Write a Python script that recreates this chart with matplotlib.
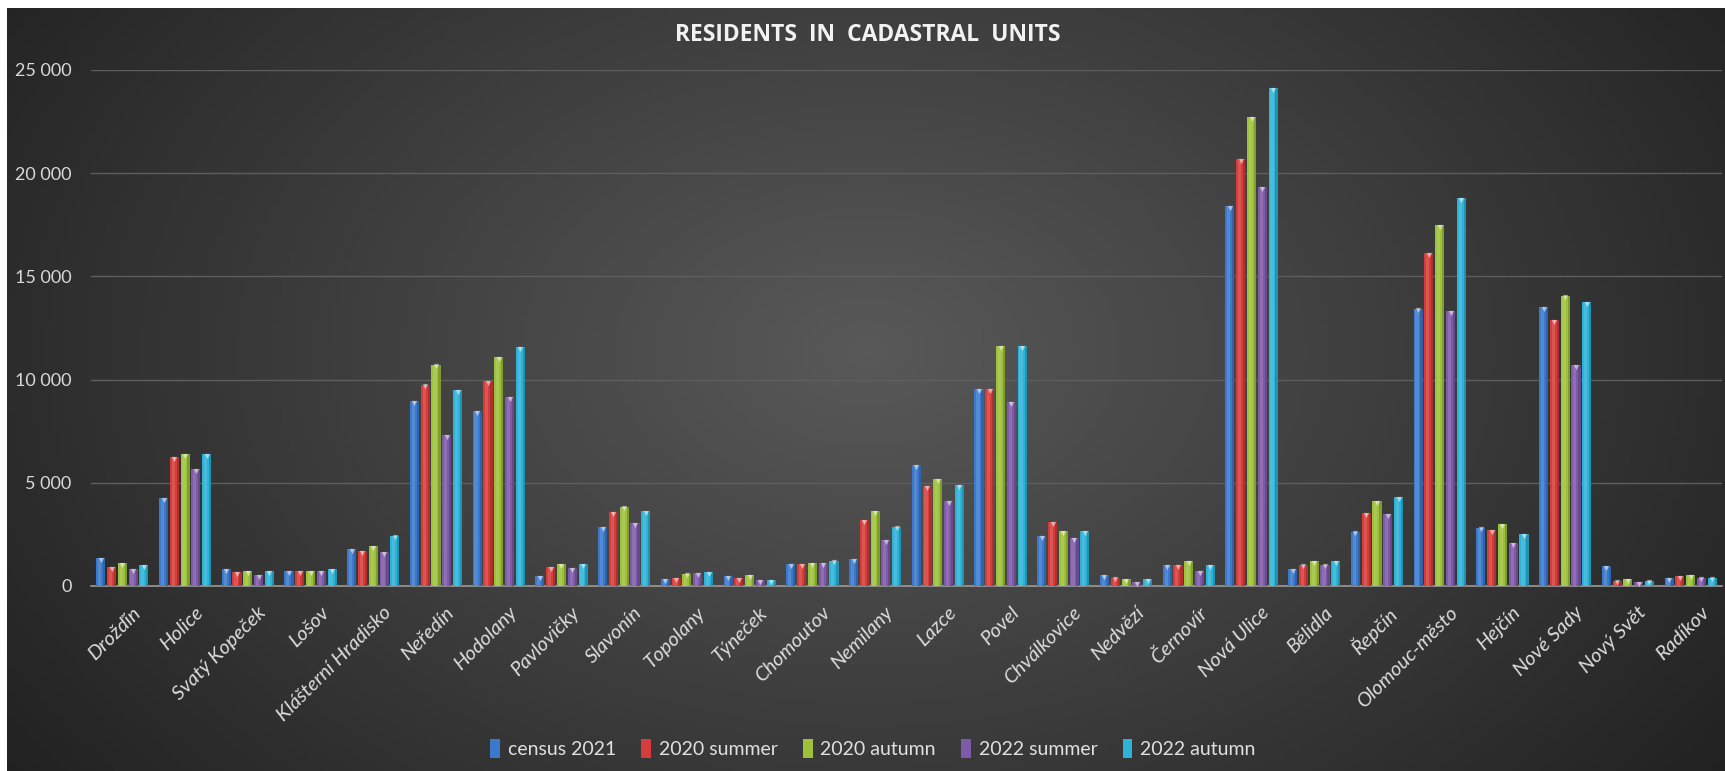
import numpy as np
import matplotlib.pyplot as plt
from matplotlib.patches import Patch
from matplotlib.ticker import FuncFormatter

plt.rcParams['font.family'] = ['Lato', 'DejaVu Sans']

units = ['Drožďín', 'Holice', 'Svatý Kopeček', 'Lošov', 'Klášterní Hradisko',
         'Neředín', 'Hodolany', 'Pavlovičky', 'Slavonín', 'Topolany', 'Týneček',
         'Chomoutov', 'Nemilany', 'Lazce', 'Povel', 'Chválkovice', 'Nedvězí',
         'Černovír', 'Nová Ulice', 'Bělidla', 'Řepčín', 'Olomouc-město',
         'Hejčín', 'Nové Sady', 'Nový Svět', 'Radíkov']

census_2021 = [1340, 4280, 820, 730, 1800, 8960, 8460, 500, 2840, 340, 480,
               1060, 1300, 5860, 9550, 2420, 520, 1000, 18400, 800, 2640,
               13440, 2830, 13530, 950, 370]
summer_2020 = [930, 6230, 690, 730, 1710, 9760, 9930, 910, 3570, 370, 370,
               1060, 3200, 4830, 9550, 3100, 410, 1000, 20670, 1040, 3530,
               16150, 2710, 12880, 260, 480]
autumn_2020 = [1120, 6390, 730, 730, 1950, 10730, 11100, 1080, 3850, 600, 540,
               1100, 3630, 5190, 11620, 2660, 350, 1190, 22710, 1190, 4130,
               17470, 2990, 14070, 320, 540]
summer_2022 = [820, 5650, 520, 730, 1640, 7300, 9150, 870, 3050, 630, 300,
               1100, 2230, 4130, 8920, 2320, 200, 740, 19310, 1040, 3480,
               13330, 2080, 10690, 200, 410]
autumn_2022 = [1020, 6390, 730, 820, 2440, 9480, 11560, 1080, 3630, 670, 300,
               1230, 2880, 4910, 11620, 2660, 320, 1000, 24130, 1190, 4310,
               18810, 2530, 13740, 260, 410]

series = [('census 2021', census_2021, '#3b79cc'),
          ('2020 summer', summer_2020, '#d63c3a'),
          ('2020 autumn', autumn_2020, '#9dc13b'),
          ('2022 summer', summer_2022, '#7f5aa9'),
          ('2022 autumn', autumn_2022, '#2db3d8')]

fig = plt.figure(figsize=(17.25, 7.71), dpi=100, facecolor='white')

# dark radial background, leaving a thin white strip top and left
bg = fig.add_axes([7 / 1725, 0, 1 - 7 / 1725, 1 - 8 / 771])
bg.axis('off')
gx, gy = np.meshgrid(np.linspace(0, 1, 400), np.linspace(0, 1, 200))
r = np.sqrt(((gx - 0.5) / 0.62) ** 2 + ((gy - 0.55) / 0.95) ** 2)
r = np.clip(r, 0, 1)
shade = 0.35 - 0.22 * r
bg.imshow(np.dstack([shade, shade, shade]), extent=[0, 1, 0, 1],
          aspect='auto', origin='lower')
bg.set_xlim(0, 1)
bg.set_ylim(0, 1)

ax = fig.add_axes([91 / 1725, 1 - 586 / 771, (1722 - 91) / 1725, (586 - 70) / 771])
ax.set_facecolor('none')

x = np.arange(len(units)) + 0.5
step = 0.172
width = 0.145
for i, (name, vals, col) in enumerate(series):
    pos = x + (i - 2) * step
    ax.bar(pos, vals, width=width, color=col, zorder=3)
    # a bit of shine / shadow to mimic the bevelled bars
    ax.bar(pos - width * 0.12, vals, width=width * 0.35, color='white',
           alpha=0.13, zorder=4)
    ax.bar(pos + width * 0.38, vals, width=width * 0.24, color='black',
           alpha=0.18, zorder=4)
    ax.scatter(pos, np.array(vals) - 90, marker='v', s=14, color='white',
               alpha=0.55, linewidths=0, zorder=5)

ax.set_xlim(0, len(units))
ax.set_ylim(0, 25000)
ax.set_yticks(range(0, 25001, 5000))
ax.yaxis.set_major_formatter(FuncFormatter(lambda v, p: f'{int(v):,}'.replace(',', ' ')))
ax.grid(axis='y', color='#5e5e5e', linewidth=1, zorder=0)
ax.set_axisbelow(True)
for s in ['top', 'right', 'left']:
    ax.spines[s].set_visible(False)
ax.spines['bottom'].set_color('#9a9a9a')
ax.spines['bottom'].set_linewidth(1.2)

ax.set_xticks(x + 0.15)
ax.set_xticklabels(units, rotation=45, ha='right', rotation_mode='anchor',
                   style='italic', fontsize=14.5, color='#dcdcdc')
ax.tick_params(axis='x', length=0, pad=13)
ax.tick_params(axis='y', length=0, pad=14, labelsize=13, labelcolor='#d9d9d9')

fig.text(0.503, 0.955, 'RESIDENTS  IN  CADASTRAL  UNITS', ha='center', va='center',
         fontsize=16.5, fontweight='bold', color='#f2f2f2', family=['Open Sans', 'DejaVu Sans'])

handles = [Patch(facecolor=c, label=n) for n, v, c in series]
fig.legend(handles=handles, loc='center', bbox_to_anchor=(0.506, 0.029), ncol=5,
           frameon=False, fontsize=14, labelcolor='#e0e0e0', handlelength=0.5,
           handleheight=1.1, handletextpad=0.4, columnspacing=1.3)

fig.savefig('out.png', dpi=100, facecolor=fig.get_facecolor())
